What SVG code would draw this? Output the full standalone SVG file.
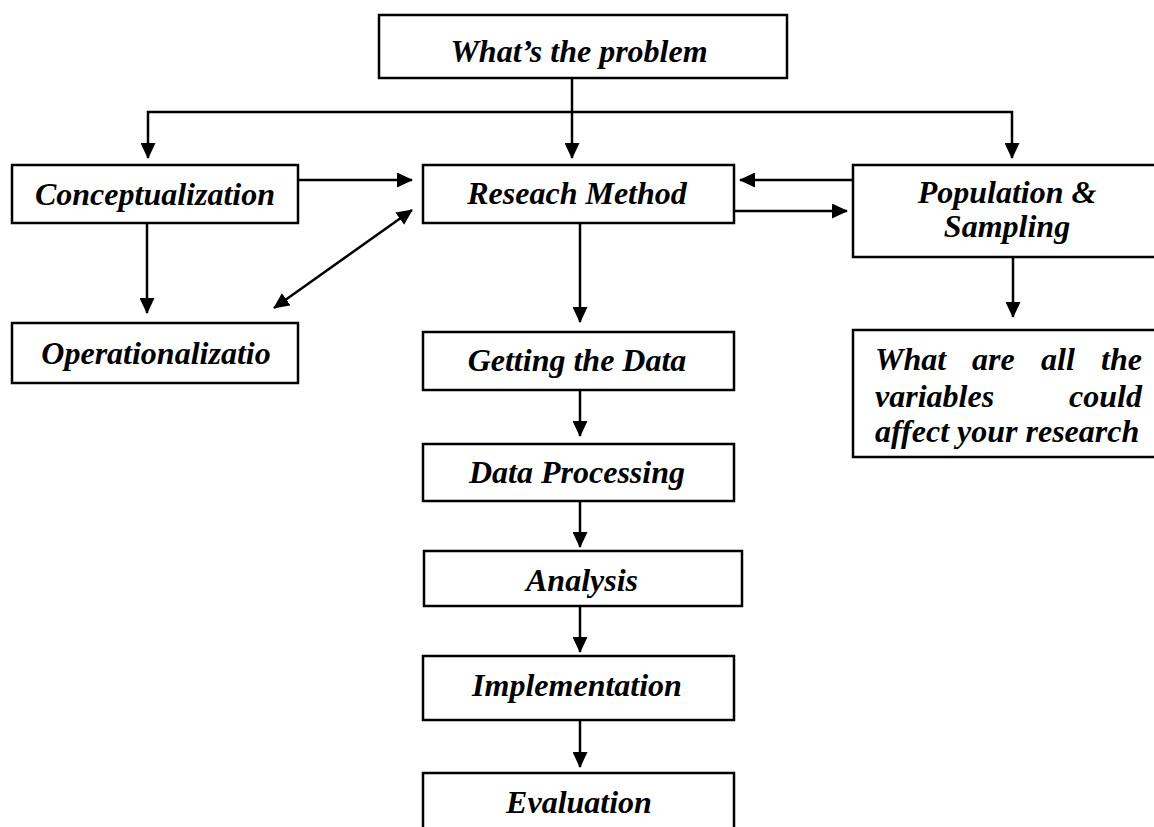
<svg xmlns="http://www.w3.org/2000/svg" width="1154" height="827" viewBox="0 0 1154 827">
<style>
.box{fill:#fff;stroke:#000;stroke-width:2.5}
.lbl{font-family:"Liberation Serif","Times New Roman",serif;font-weight:bold;font-style:italic;font-size:32px;fill:#000}
.c{text-anchor:middle}
.con{fill:none;stroke:#000;stroke-width:2.5}
</style>
<defs>
<marker id="ah" markerUnits="userSpaceOnUse" markerWidth="16" markerHeight="15" refX="15" refY="7.5" orient="auto-start-reverse">
<path d="M0,0 L16,7.5 L0,15 z" fill="#000"/>
</marker>
</defs>
<rect width="1154" height="827" fill="#fff"/>
<g id="connectors">
<line class="con" x1="572" y1="78" x2="572" y2="158" marker-end="url(#ah)"/>
<polyline class="con" points="148,158 148,112 1012,112 1012,158" marker-start="url(#ah)" marker-end="url(#ah)"/>
<line class="con" x1="298" y1="180" x2="412" y2="180" marker-end="url(#ah)"/>
<line class="con" x1="274" y1="308" x2="412" y2="210" marker-start="url(#ah)" marker-end="url(#ah)"/>
<line class="con" x1="147" y1="223" x2="147" y2="313" marker-end="url(#ah)"/>
<line class="con" x1="853" y1="180" x2="740" y2="180" marker-end="url(#ah)"/>
<line class="con" x1="734" y1="211" x2="847" y2="211" marker-end="url(#ah)"/>
<line class="con" x1="1013" y1="257" x2="1013" y2="317" marker-end="url(#ah)"/>
<line class="con" x1="580" y1="223" x2="580" y2="322" marker-end="url(#ah)"/>
<line class="con" x1="580" y1="390" x2="580" y2="436" marker-end="url(#ah)"/>
<line class="con" x1="580" y1="501" x2="580" y2="547" marker-end="url(#ah)"/>
<line class="con" x1="580" y1="606" x2="580" y2="652" marker-end="url(#ah)"/>
<line class="con" x1="580" y1="720" x2="580" y2="767" marker-end="url(#ah)"/>
</g>
<g id="problem"><rect class="box" x="379" y="15" width="408" height="63"/><text class="lbl c" x="579" y="62">What’s the problem</text></g>
<g id="conceptualization"><rect class="box" x="12" y="165" width="286" height="58"/><text class="lbl c" x="155" y="205">Conceptualization</text></g>
<g id="research-method"><rect class="box" x="423" y="165" width="311" height="58"/><text class="lbl c" x="577" y="204">Reseach Method</text></g>
<g id="population"><rect class="box" x="853" y="165" width="305" height="92"/><text class="lbl c" x="1007" y="203">Population &amp;</text><text class="lbl c" x="1007" y="237">Sampling</text></g>
<g id="operationalization"><rect class="box" x="12" y="323" width="286" height="60"/><text class="lbl c" x="156" y="364">Operationalizatio</text></g>
<g id="variables"><rect class="box" x="853" y="330" width="305" height="127"/>
<text class="lbl" y="370"><tspan x="875">What</tspan><tspan x="972">are</tspan><tspan x="1041">all</tspan><tspan x="1101">the</tspan></text>
<text class="lbl" x="875" y="407">variables</text><text class="lbl" x="1142" y="407" text-anchor="end">could</text>
<text class="lbl" x="875" y="442">affect your research</text></g>
<g id="getting-data"><rect class="box" x="423" y="332" width="311" height="58"/><text class="lbl c" x="577" y="371">Getting the Data</text></g>
<g id="data-processing"><rect class="box" x="423" y="444" width="311" height="57"/><text class="lbl c" x="577" y="483">Data Processing</text></g>
<g id="analysis"><rect class="box" x="424" y="551" width="318" height="55"/><text class="lbl c" x="582" y="591">Analysis</text></g>
<g id="implementation"><rect class="box" x="423" y="656" width="311" height="64"/><text class="lbl c" x="577" y="696">Implementation</text></g>
<g id="evaluation"><rect class="box" x="423" y="773" width="311" height="70"/><text class="lbl c" x="579" y="813">Evaluation</text></g>
</svg>
